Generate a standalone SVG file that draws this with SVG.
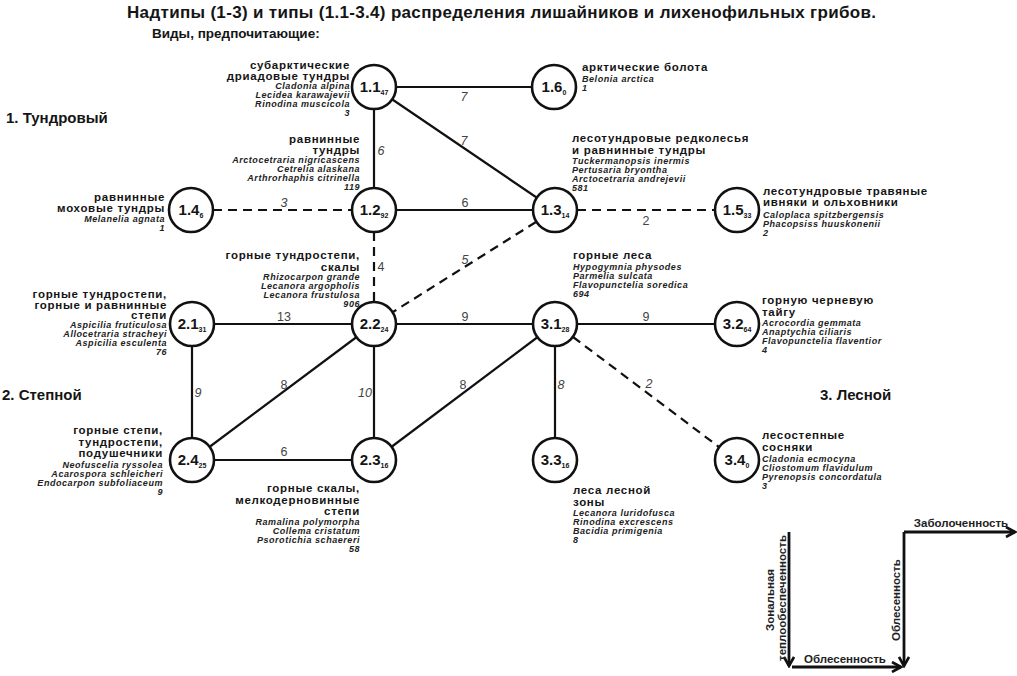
<svg xmlns="http://www.w3.org/2000/svg" width="1017" height="676" viewBox="0 0 1017 676">
<defs>
<style>
text{font-family:"Liberation Sans",Arial,sans-serif;fill:#151515}
.t{font-size:17px;font-weight:bold}
.st{font-size:13.5px;font-weight:bold}
.sec{font-size:15px;font-weight:bold}
.h{font-size:11.5px;font-weight:bold;letter-spacing:0.7px}
.sp{font-size:9px;font-weight:bold;font-style:italic;fill:#222;letter-spacing:0.55px}
.r{text-anchor:end}
.id{font-size:15px;font-weight:bold;text-anchor:middle}
.sub{font-size:7px}
.n{fill:#fff;stroke:#111;stroke-width:2.6}
.e{stroke:#111;stroke-width:2.2;fill:none}
.d{stroke-dasharray:9 6}
.el{font-size:12.5px;fill:#444;text-anchor:middle}
.i{font-style:italic}
.ax{stroke:#111;stroke-width:2.8;fill:none}
.axt{font-size:11.5px;font-weight:bold;fill:#222}
</style>
<marker id="ah" viewBox="0 0 12 12" refX="10" refY="6" markerWidth="12" markerHeight="12" markerUnits="userSpaceOnUse" orient="auto">
<path d="M1,1 L10,6 L1,11" fill="none" stroke="#111" stroke-width="2.6"/>
</marker>
</defs>
<rect width="1017" height="676" fill="#fff"/>

<text class="t" x="127" y="18" textLength="749">Надтипы (1-3) и типы (1.1-3.4) распределения лишайников и лихенофильных грибов.</text>
<text class="st" x="152" y="38">Виды, предпочитающие:</text>
<text class="sec" x="6" y="123">1. Тундровый</text>
<text class="sec" x="2" y="400">2. Степной</text>
<text class="sec" x="820" y="400">3. Лесной</text>

<g id="connectors">
<line class="e" x1="374" y1="87" x2="554" y2="87"/>
<line class="e" x1="374" y1="87" x2="555" y2="210"/>
<line class="e" x1="374" y1="87" x2="374" y2="210"/>
<line class="e d" x1="213" y1="210" x2="352" y2="210"/>
<line class="e" x1="374" y1="210" x2="555" y2="210"/>
<line class="e d" x1="577" y1="210" x2="715" y2="210"/>
<line class="e d" x1="374" y1="232" x2="374" y2="302"/>
<line class="e d" x1="536" y1="222" x2="393" y2="312"/>
<line class="e" x1="192" y1="324" x2="374" y2="324"/>
<line class="e" x1="374" y1="324" x2="555" y2="324"/>
<line class="e" x1="555" y1="324" x2="737" y2="324"/>
<line class="e" x1="192" y1="324" x2="192" y2="460"/>
<line class="e" x1="374" y1="324" x2="192" y2="460"/>
<line class="e" x1="374" y1="324" x2="374" y2="460"/>
<line class="e" x1="555" y1="324" x2="374" y2="460"/>
<line class="e" x1="555" y1="324" x2="555" y2="460"/>
<line class="e d" x1="573" y1="337" x2="719" y2="447"/>
<line class="e" x1="192" y1="460" x2="374" y2="460"/>
<text class="el i" x="464" y="101">7</text>
<text class="el i" x="464" y="145">7</text>
<text class="el i" x="381" y="155">6</text>
<text class="el i" x="284" y="207">3</text>
<text class="el" x="465" y="207">6</text>
<text class="el" x="646" y="225">2</text>
<text class="el" x="381" y="271">4</text>
<text class="el i" x="465" y="264">5</text>
<text class="el" x="284" y="321">13</text>
<text class="el" x="465" y="321">9</text>
<text class="el" x="646" y="321">9</text>
<text class="el i" x="198" y="397">9</text>
<text class="el" x="284" y="389">8</text>
<text class="el i" x="365" y="397">10</text>
<text class="el" x="463" y="389">8</text>
<text class="el i" x="561" y="389">8</text>
<text class="el i" x="649" y="388">2</text>
<text class="el" x="284" y="456">6</text>
</g>

<g id="n11">
<circle class="n" cx="374" cy="87" r="22"/>
<text class="id" x="374" y="92">1.1<tspan class="sub" dy="3">47</tspan></text>
<text class="h r" x="350" y="69">субарктические</text>
<text class="h r" x="350" y="80">дриадовые тундры</text>
<text class="sp r" x="350" y="89">Cladonia alpina</text>
<text class="sp r" x="350" y="98">Lecidea karawajevii</text>
<text class="sp r" x="350" y="107">Rinodina muscicola</text>
<text class="sp r" x="350" y="116">3</text>
</g>

<g id="n16">
<circle class="n" cx="554" cy="87" r="22"/>
<text class="id" x="554" y="92">1.6<tspan class="sub" dy="3">0</tspan></text>
<text class="h" x="582" y="71">арктические болота</text>
<text class="sp" x="582" y="81.5">Belonia arctica</text>
<text class="sp" x="582" y="90.5">1</text>
</g>

<g id="n14">
<circle class="n" cx="191" cy="210" r="22"/>
<text class="id" x="191" y="215">1.4<tspan class="sub" dy="3">6</tspan></text>
<text class="h r" x="165" y="201">равнинные</text>
<text class="h r" x="165" y="212">моховые тундры</text>
<text class="sp r" x="165" y="221.5">Melanelia agnata</text>
<text class="sp r" x="165" y="230.5">1</text>
</g>

<g id="n12">
<circle class="n" cx="374" cy="210" r="22"/>
<text class="id" x="374" y="215">1.2<tspan class="sub" dy="3">92</tspan></text>
<text class="h r" x="360" y="143">равнинные</text>
<text class="h r" x="360" y="154">тундры</text>
<text class="sp r" x="360" y="162.5">Arctocetraria nigricascens</text>
<text class="sp r" x="360" y="171.5">Cetrelia alaskana</text>
<text class="sp r" x="360" y="180.5">Arthrorhaphis citrinella</text>
<text class="sp r" x="360" y="189.5">119</text>
</g>

<g id="n13">
<circle class="n" cx="555" cy="210" r="22"/>
<text class="id" x="555" y="215">1.3<tspan class="sub" dy="3">14</tspan></text>
<text class="h" x="572" y="142">лесотундровые редколесья</text>
<text class="h" x="572" y="154">и равнинные тундры</text>
<text class="sp" x="572" y="163.5">Tuckermanopsis inermis</text>
<text class="sp" x="572" y="172.5">Pertusaria bryontha</text>
<text class="sp" x="572" y="181.5">Arctocetraria andrejevii</text>
<text class="sp" x="572" y="190.5">581</text>
</g>

<g id="n15">
<circle class="n" cx="737" cy="210" r="22"/>
<text class="id" x="737" y="215">1.5<tspan class="sub" dy="3">33</tspan></text>
<text class="h" x="763" y="195">лесотундровые травяные</text>
<text class="h" x="763" y="206">ивняки и ольховники</text>
<text class="sp" x="763" y="217.5">Caloplaca spitzbergensis</text>
<text class="sp" x="763" y="226.5">Phacopsiss huuskonenii</text>
<text class="sp" x="763" y="235.5">2</text>
</g>

<g id="n21">
<circle class="n" cx="192" cy="324" r="22"/>
<text class="id" x="192" y="329">2.1<tspan class="sub" dy="3">31</tspan></text>
<text class="h r" x="167" y="298">горные тундростепи,</text>
<text class="h r" x="167" y="308.5">горные и равнинные</text>
<text class="h r" x="167" y="319">степи</text>
<text class="sp r" x="167" y="327.5">Aspicilia fruticulosa</text>
<text class="sp r" x="167" y="336.5">Allocetraria stracheyi</text>
<text class="sp r" x="167" y="345.5">Aspicilia esculenta</text>
<text class="sp r" x="167" y="354.5">76</text>
</g>

<g id="n22">
<circle class="n" cx="374" cy="324" r="22"/>
<text class="id" x="374" y="329">2.2<tspan class="sub" dy="3">24</tspan></text>
<text class="h r" x="360" y="259">горные тундростепи,</text>
<text class="h r" x="360" y="271">скалы</text>
<text class="sp r" x="360" y="280">Rhizocarpon grande</text>
<text class="sp r" x="360" y="289">Lecanora argopholis</text>
<text class="sp r" x="360" y="298">Lecanora frustulosa</text>
<text class="sp r" x="360" y="307">906</text>
</g>

<g id="n31">
<circle class="n" cx="555" cy="324" r="22"/>
<text class="id" x="555" y="329">3.1<tspan class="sub" dy="3">28</tspan></text>
<text class="h" x="573" y="259">горные леса</text>
<text class="sp" x="573" y="269.5">Hypogymnia physodes</text>
<text class="sp" x="573" y="278.5">Parmelia sulcata</text>
<text class="sp" x="573" y="287.5">Flavopunctelia soredica</text>
<text class="sp" x="573" y="296.5">694</text>
</g>

<g id="n32">
<circle class="n" cx="737" cy="324" r="22"/>
<text class="id" x="737" y="329">3.2<tspan class="sub" dy="3">64</tspan></text>
<text class="h" x="762" y="304">горную черневую</text>
<text class="h" x="762" y="316">тайгу</text>
<text class="sp" x="762" y="325.5">Acrocordia gemmata</text>
<text class="sp" x="762" y="334.5">Anaptychia ciliaris</text>
<text class="sp" x="762" y="343.5">Flavopunctelia flaventior</text>
<text class="sp" x="762" y="352.5">4</text>
</g>

<g id="n24">
<circle class="n" cx="192" cy="460" r="22"/>
<text class="id" x="192" y="465">2.4<tspan class="sub" dy="3">25</tspan></text>
<text class="h r" x="163" y="434">горные степи,</text>
<text class="h r" x="163" y="445.5">тундростепи,</text>
<text class="h r" x="163" y="457">подушечники</text>
<text class="sp r" x="163" y="468">Neofuscelia ryssolea</text>
<text class="sp r" x="163" y="477">Acarospora schleicheri</text>
<text class="sp r" x="163" y="486">Endocarpon subfoliaceum</text>
<text class="sp r" x="163" y="495">9</text>
</g>

<g id="n23">
<circle class="n" cx="374" cy="460" r="22"/>
<text class="id" x="374" y="465">2.3<tspan class="sub" dy="3">16</tspan></text>
<text class="h r" x="360" y="492">горные скалы,</text>
<text class="h r" x="360" y="503.5">мелкодерновинные</text>
<text class="h r" x="360" y="515">степи</text>
<text class="sp r" x="360" y="525">Ramalina polymorpha</text>
<text class="sp r" x="360" y="534">Collema cristatum</text>
<text class="sp r" x="360" y="543">Psorotichia schaereri</text>
<text class="sp r" x="360" y="552">58</text>
</g>

<g id="n33">
<circle class="n" cx="555" cy="460" r="22"/>
<text class="id" x="555" y="465">3.3<tspan class="sub" dy="3">16</tspan></text>
<text class="h" x="573" y="494">леса лесной</text>
<text class="h" x="573" y="506">зоны</text>
<text class="sp" x="573" y="516">Lecanora luridofusca</text>
<text class="sp" x="573" y="525">Rinodina excrescens</text>
<text class="sp" x="573" y="534">Bacidia primigenia</text>
<text class="sp" x="573" y="543">8</text>
</g>

<g id="n34">
<circle class="n" cx="737" cy="460" r="22"/>
<text class="id" x="737" y="465">3.4<tspan class="sub" dy="3">0</tspan></text>
<text class="h" x="762" y="439">лесостепные</text>
<text class="h" x="762" y="451">сосняки</text>
<text class="sp" x="762" y="462">Cladonia ecmocyna</text>
<text class="sp" x="762" y="471">Cliostomum flavidulum</text>
<text class="sp" x="762" y="480">Pyrenopsis  concordatula</text>
<text class="sp" x="762" y="489">3</text>
</g>

<g id="axes">
<line class="ax" x1="789" y1="532" x2="789" y2="666" marker-end="url(#ah)"/>
<line class="ax" x1="792" y1="667" x2="901" y2="667" marker-end="url(#ah)"/>
<line class="ax" x1="904" y1="532" x2="904" y2="666" marker-end="url(#ah)"/>
<line class="ax" x1="904" y1="532" x2="1015" y2="532" marker-end="url(#ah)"/>
<text class="axt" x="845" y="663" text-anchor="middle">Облесенность</text>
<text class="axt" x="961" y="527" text-anchor="middle">Заболоченность</text>
<text class="axt" transform="translate(900,600) rotate(-90)" text-anchor="middle">Облесенность</text>
<text class="axt" transform="translate(774,600) rotate(-90)" text-anchor="middle">Зональная</text>
<text class="axt" transform="translate(786,598) rotate(-90)" text-anchor="middle">теплообеспеченность</text>
</g>
</svg>
